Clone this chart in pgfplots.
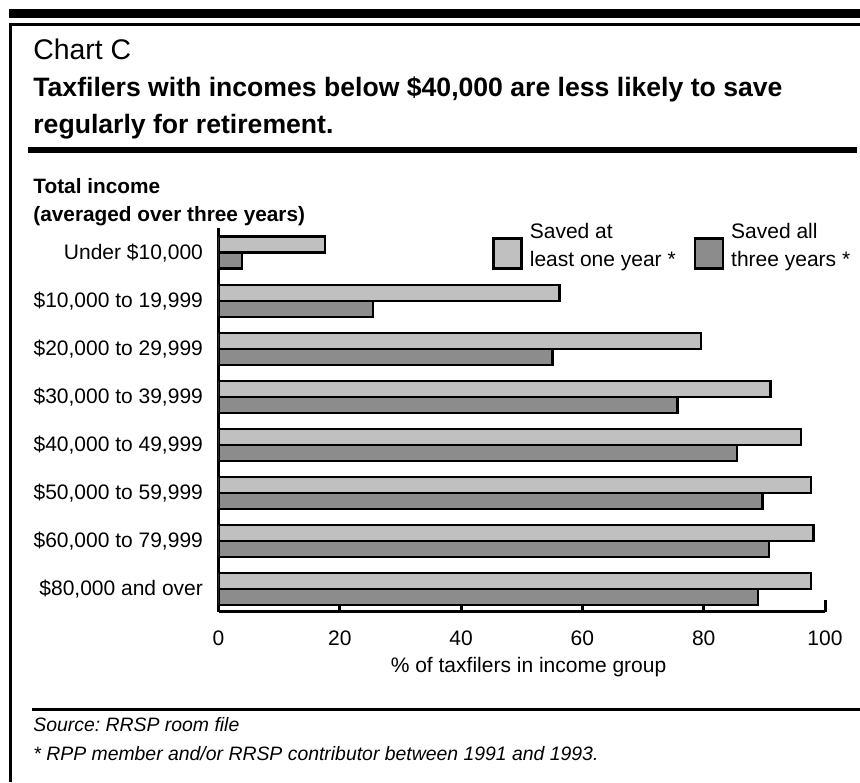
\documentclass[border=0pt]{standalone}
\usepackage{fontspec}
\setmainfont{Liberation Sans}
\usepackage{pgfplots}
\pgfplotsset{compat=1.18}
\definecolor{lightbar}{RGB}{192,192,192}
\definecolor{darkbar}{RGB}{140,140,140}
\frenchspacing
\begin{document}
\begin{tikzpicture}
\useasboundingbox (0,0) rectangle (430pt,391pt);
% frame and rules
\fill[black] (4.65pt,382pt) rectangle (430pt,386.5pt);
\draw[line width=1.4pt] (5.35pt,0pt) -- (5.35pt,378.7pt) -- (430pt,378.7pt);
\draw[line width=3pt] (14pt,316pt) -- (428.5pt,316pt);
\draw[line width=1.5pt] (15.85pt,36.25pt) -- (430pt,36.25pt);
% titles
\node[anchor=base west, inner sep=0pt, font=\fontsize{14.2}{16}\selectfont] at (16.5pt,361pt) {Chart C};
\node[anchor=base west, inner sep=0pt, font=\bfseries\fontsize{13.3}{15}\selectfont] at (16.5pt,342.5pt) {Taxfilers with incomes below \$40,000 are less likely to save};
\node[anchor=base west, inner sep=0pt, font=\bfseries\fontsize{13.3}{15}\selectfont] at (16.5pt,324pt) {regularly for retirement.};
\node[anchor=base west, inner sep=0pt, font=\bfseries\fontsize{10.4}{12}\selectfont] at (16.5pt,294pt) {Total income};
\node[anchor=base west, inner sep=0pt, font=\bfseries\fontsize{10.4}{12}\selectfont] at (16.5pt,280pt) {(averaged over three years)};
% footer
\node[anchor=base west, inner sep=0pt, font=\itshape\fontsize{9.7}{12}\selectfont] at (16.5pt,25.5pt) {Source: RRSP room file};
\node[anchor=base west, inner sep=0pt, font=\itshape\fontsize{9.7}{12}\selectfont] at (16.5pt,11pt) {* RPP member and/or RRSP contributor between 1991 and 1993.};
\begin{axis}[
  at={(109.25pt,85.25pt)}, anchor=south west,
  scale only axis, width=303.25pt, height=191.75pt,
  xmin=0, xmax=100, ymin=-0.468, ymax=7.514,
  axis x line*=bottom, axis y line*=left,
  axis line style={-, line width=1.5pt},
  xtick={0,20,40,60,80,100}, ytick={0,1,2,3,4,5,6,7},
  yticklabels={{\$80,000 and over},{\$60,000 to 79,999},{\$50,000 to 59,999},{\$40,000 to 49,999},{\$30,000 to 39,999},{\$20,000 to 29,999},{\$10,000 to 19,999},{Under \$10,000}},
  tick align=inside, major tick length=6pt,
  x tick style={line width=1.5pt, black},
  y tick style={draw=none},
  /pgf/number format/assume math mode=true,
  ticklabel style={font=\fontsize{10.5}{12}\selectfont},
  xticklabel style={anchor=north, inner sep=0pt, yshift=-9.5pt},
  yticklabel style={anchor=east, inner sep=0pt, xshift=-1.6pt},
  xlabel={\% of taxfilers in income group},
  xlabel style={at={(axis description cs:0.5,0)}, anchor=base, yshift=-30.25pt, xshift=3.4pt, inner sep=0pt, font=\fontsize{10.5}{12}\selectfont},
  xbar, bar width=0.333,
  legend columns=2,
  legend cell align=left,
  legend style={draw=none, fill=none, inner sep=0pt, at={(axis description cs:0.451,1.013)}, anchor=north west,
    font=\fontsize{10.5}{14}\selectfont,
    nodes={inner sep=0pt, align=left},
    /tikz/every odd column/.append style={column sep=3.5pt},
    /tikz/every even column/.append style={column sep=9pt}},
  legend image code/.code={\draw[#1, line width=1.2pt] (0pt,-11pt) rectangle (14pt,4pt);},
]
% categories plotted bottom-up: 0 = $80,000 and over ... 7 = Under $10,000
\addplot[xbar, fill=lightbar, draw=black, line width=1.2pt, bar shift=0.1665] coordinates {
  (97.7,0) (98.1,1) (97.7,2) (96.0,3) (91.0,4) (79.6,5) (56.2,6) (17.6,7)};
\addlegendentry{Saved at\\least one year *}
\addplot[xbar, fill=darkbar, draw=black, line width=1.2pt, bar shift=-0.1665] coordinates {
  (89.0,0) (90.8,1) (89.7,2) (85.5,3) (75.7,4) (55.1,5) (25.5,6) (3.9,7)};
\addlegendentry{Saved all\\three years *}
\end{axis}
\end{tikzpicture}
\end{document}
